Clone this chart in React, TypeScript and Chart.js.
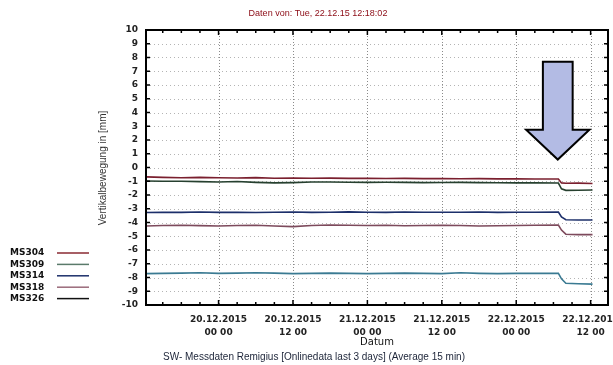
import React, { useEffect, useRef } from "react";
import { Chart, registerables } from "chart.js";
Chart.register(...registerables);

// hours relative to 20.12.2015 00:00
const hours = [-11.7, -9, -6, -3, 0, 3, 6, 9, 12, 15, 18, 21, 24, 27, 30, 33, 36, 39, 42, 45, 48, 51, 54.8, 55.3, 56, 58, 60.3];
const ms304 = [-0.68, -0.72, -0.74, -0.72, -0.75, -0.76, -0.74, -0.78, -0.76, -0.78, -0.77, -0.79, -0.78, -0.8, -0.79, -0.81, -0.8, -0.82, -0.81, -0.83, -0.82, -0.84, -0.84, -1.12, -1.15, -1.14, -1.16];
const ms309 = [-0.98, -1.0, -1.0, -1.03, -1.05, -1.02, -1.08, -1.12, -1.1, -1.06, -1.05, -1.07, -1.08, -1.07, -1.08, -1.1, -1.09, -1.08, -1.1, -1.11, -1.12, -1.12, -1.13, -1.55, -1.66, -1.65, -1.64];
const ms314 = [-3.27, -3.25, -3.26, -3.24, -3.26, -3.25, -3.27, -3.25, -3.24, -3.26, -3.25, -3.23, -3.25, -3.26, -3.24, -3.25, -3.26, -3.25, -3.24, -3.26, -3.25, -3.25, -3.24, -3.6, -3.8, -3.82, -3.82];
const ms318 = [-4.25, -4.22, -4.2, -4.23, -4.25, -4.22, -4.2, -4.25, -4.3, -4.22, -4.18, -4.2, -4.22, -4.2, -4.24, -4.22, -4.2, -4.22, -4.25, -4.24, -4.22, -4.2, -4.18, -4.55, -4.85, -4.88, -4.88];
const ms326 = [-7.72, -7.7, -7.68, -7.66, -7.7, -7.68, -7.65, -7.68, -7.72, -7.7, -7.68, -7.7, -7.72, -7.7, -7.68, -7.7, -7.72, -7.66, -7.7, -7.72, -7.7, -7.7, -7.7, -8.1, -8.42, -8.45, -8.48];

const seriesNames = ["MS304", "MS309", "MS314", "MS318", "MS326"];
const seriesValues = [ms304, ms309, ms314, ms318, ms326];
const seriesColors = ["#7a1f2e", "#26402f", "#1c2f6a", "#7d4a5c", "#3a7a92"];
const legendColors = ["#8a2a32", "#5a7a6a", "#1c2f6a", "#9a6a7a", "#111111"];

const xTickHours = [0, 12, 24, 36, 48, 60];
const xTickLabels = [
  ["20.12.2015", "00 00"],
  ["20.12.2015", "12 00"],
  ["21.12.2015", "00 00"],
  ["21.12.2015", "12 00"],
  ["22.12.2015", "00 00"],
  ["22.12.2015", "12 00"],
];
const xMin = -11.7;
const xMax = 62.8;
const yMin = -10;
const yMax = 10;

const titleText = "Daten von: Tue, 22.12.15 12:18:02";
const yAxisTitle = "Vertikalbewegung in [mm]";
const xAxisTitle = "Datum";
const subtitleText = "SW- Messdaten Remigius [Onlinedata last 3 days] (Average 15 min)";

// arrow annotation (data coords)
const arrowHour = 54.7;
const arrowTop = 7.7;
const arrowNeck = 2.75;
const arrowTip = 0.58;
const arrowShaftHalfH = 2.4;
const arrowHeadHalfH = 5.1;

const decor = {
  id: "decor",
  beforeDatasetsDraw(chart: any) {
    const { ctx, chartArea: a, scales } = chart;
    const x = scales.x, y = scales.y;
    ctx.save();
    ctx.lineWidth = 1;
    ctx.strokeStyle = "#b4b4b4";
    ctx.setLineDash([1, 3]);
    for (let v = yMin + 1; v < yMax; v++) {
      const py = Math.round(y.getPixelForValue(v)) + 0.5;
      ctx.beginPath();
      ctx.moveTo(a.left, py);
      ctx.lineTo(a.right, py);
      ctx.stroke();
    }
    ctx.strokeStyle = "#8a8a8a";
    ctx.setLineDash([1, 2]);
    for (const h of xTickHours) {
      const px = Math.round(x.getPixelForValue(h)) + 0.5;
      ctx.beginPath();
      ctx.moveTo(px, a.top);
      ctx.lineTo(px, a.bottom);
      ctx.stroke();
    }
    ctx.restore();
  },
  afterDatasetsDraw(chart: any) {
    const { ctx, chartArea: a, scales } = chart;
    const x = scales.x, y = scales.y;
    ctx.save();
    // border
    ctx.setLineDash([]);
    ctx.strokeStyle = "#000";
    ctx.lineWidth = 2;
    ctx.strokeRect(a.left, a.top, a.right - a.left, a.bottom - a.top);
    // inward ticks
    ctx.lineWidth = 1.5;
    for (let v = yMin; v <= yMax; v++) {
      const py = y.getPixelForValue(v);
      ctx.beginPath();
      ctx.moveTo(a.left, py);
      ctx.lineTo(a.left + 4, py);
      ctx.moveTo(a.right, py);
      ctx.lineTo(a.right - 4, py);
      ctx.stroke();
    }
    for (let h = Math.ceil(xMin / 3) * 3; h <= xMax; h += 3) {
      const px = x.getPixelForValue(h);
      const len = h % 12 === 0 ? 5 : 3;
      ctx.beginPath();
      ctx.moveTo(px, a.bottom);
      ctx.lineTo(px, a.bottom - len);
      ctx.moveTo(px, a.top);
      ctx.lineTo(px, a.top + len);
      ctx.stroke();
    }
    // arrow
    const cx = x.getPixelForValue(arrowHour);
    const sw = x.getPixelForValue(arrowHour + arrowShaftHalfH) - cx;
    const hw = x.getPixelForValue(arrowHour + arrowHeadHalfH) - cx;
    const yt = y.getPixelForValue(arrowTop);
    const yn = y.getPixelForValue(arrowNeck);
    const yp = y.getPixelForValue(arrowTip);
    ctx.beginPath();
    ctx.moveTo(cx - sw, yt);
    ctx.lineTo(cx + sw, yt);
    ctx.lineTo(cx + sw, yn);
    ctx.lineTo(cx + hw, yn);
    ctx.lineTo(cx, yp);
    ctx.lineTo(cx - hw, yn);
    ctx.lineTo(cx - sw, yn);
    ctx.closePath();
    ctx.fillStyle = "#b3bbe4";
    ctx.fill();
    ctx.lineWidth = 2;
    ctx.strokeStyle = "#000";
    ctx.lineJoin = "miter";
    ctx.stroke();

    // texts
    ctx.textAlign = "center";
    ctx.textBaseline = "middle";
    ctx.fillStyle = "#8b0a14";
    ctx.font = '9px "Liberation Sans"';
    ctx.fillText(titleText, 318, 14);

    ctx.fillStyle = "#111";
    ctx.font = '10px "DejaVu Sans"';
    ctx.fillText(xAxisTitle, 377, 342);

    ctx.fillStyle = "#1c2438";
    ctx.font = '10px "Liberation Sans"';
    ctx.textAlign = "left";
    ctx.fillText(subtitleText, 163, 357);

    ctx.save();
    ctx.translate(103, 168);
    ctx.rotate(-Math.PI / 2);
    ctx.textAlign = "center";
    ctx.fillStyle = "#333";
    ctx.font = '10px "Liberation Sans"';
    ctx.fillText(yAxisTitle, 0, 0);
    ctx.restore();

    // legend
    ctx.textAlign = "left";
    ctx.font = 'bold 9px "DejaVu Sans"';
    seriesNames.forEach((name, i) => {
      const ly = 253 + i * 11.4;
      ctx.fillStyle = "#111";
      ctx.fillText(name, 10, ly);
      ctx.strokeStyle = legendColors[i];
      ctx.lineWidth = 1.5;
      ctx.beginPath();
      ctx.moveTo(57, ly);
      ctx.lineTo(89, ly);
      ctx.stroke();
    });
    ctx.restore();
  },
};

export default function App() {
  const ref = useRef<HTMLCanvasElement>(null);
  useEffect(() => {
    const tickFont = { family: "DejaVu Sans", size: 9, weight: "bold" as const, lineHeight: 1.45 };
    const chart = new Chart(ref.current!, {
      type: "line",
      data: {
        datasets: seriesNames.map((name, i) => ({
          label: name,
          data: hours.map((h, j) => ({ x: h, y: seriesValues[i][j] })),
          borderColor: seriesColors[i],
          backgroundColor: seriesColors[i],
          borderWidth: 1.6,
          pointRadius: 0,
          tension: 0,
          fill: false,
        })),
      },
      options: {
        animation: false,
        responsive: false,
        devicePixelRatio: 1,
        layout: { padding: { left: 0, right: 5, top: 30, bottom: 0 } },
        plugins: { legend: { display: false }, tooltip: { enabled: false }, title: { display: false } },
        scales: {
          x: {
            type: "linear",
            min: xMin,
            max: xMax,
            grid: { display: false, drawTicks: false },
            border: { display: false },
            ticks: {
              font: tickFont,
              color: "#222",
              padding: 8,
              autoSkip: false,
              maxRotation: 0,
              callback: (_v: any, idx: number) => xTickLabels[idx],
            },
            afterBuildTicks: (s: any) => {
              s.ticks = xTickHours.map((v) => ({ value: v }));
            },
            afterFit: (s: any) => {
              s.height = 60;
              s.paddingLeft = 0;
              s.paddingRight = 0;
            },
          },
          y: {
            min: yMin,
            max: yMax,
            grid: { display: false, drawTicks: false },
            border: { display: false },
            ticks: { stepSize: 1, autoSkip: false, font: tickFont, color: "#222", padding: 8 },
            afterFit: (s: any) => {
              s.width = 146;
              s.paddingTop = 0;
              s.paddingBottom = 0;
            },
          },
        },
      },
      plugins: [decor],
    } as any);
    return () => chart.destroy();
  }, []);
  return (
    <div style={{ position: "absolute", left: 0, top: 0, width: 613, height: 365, background: "#fff" }}>
      <canvas ref={ref} width={613} height={365} style={{ display: "block", width: 613, height: 365 }} />
    </div>
  );
}
